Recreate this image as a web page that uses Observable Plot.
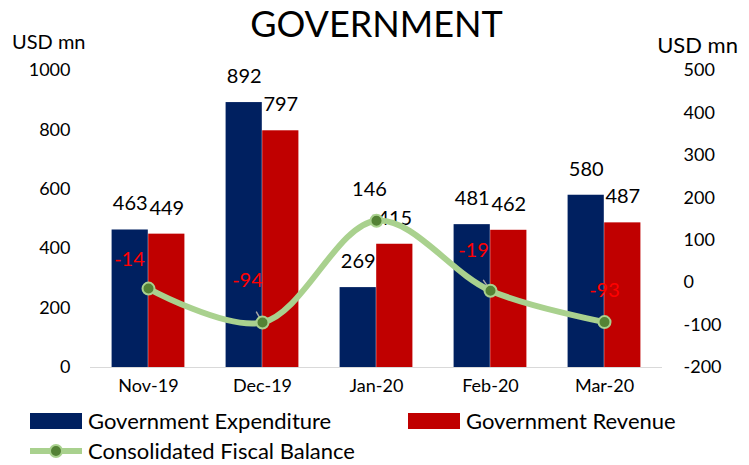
<!DOCTYPE html>
<html>
<head>
<meta charset="utf-8">
<script src="https://cdn.jsdelivr.net/npm/d3@7"></script>
<script src="https://cdn.jsdelivr.net/npm/@observablehq/plot@0.6"></script>
<style>
  html, body { margin: 0; padding: 0; background: #fff; }
  body { font-family: Lato, "Open Sans", sans-serif; color: #000; }
  #wrap { position: relative; width: 749px; height: 465px; overflow: hidden; }
  #header { position: relative; height: 55px; }
  #title { position: absolute; left: 0; right: 0; top: 5px; text-align: center; font-size: 36px; line-height: 36px; padding-left: 4px; }
  .unit { position: absolute; line-height: 22px; }
  #legend { position: relative; height: 65px; font-size: 22px; }
  .item { position: absolute; display: flex; align-items: center; height: 20px; line-height: 20px; }
  .item svg { margin-right: 6px; }
</style>
</head>
<body>
<div id="wrap">
  <div id="header">
    <div id="title">GOVERNMENT</div>
    <div class="unit" style="left:12px; top:30px; font-size:20px;">USD mn</div>
    <div class="unit" style="right:11px; top:34px; font-size:22px;">USD mn</div>
  </div>
  <div id="chart"></div>
  <div id="legend"></div>
</div>
<script>
const months = ["Nov-19", "Dec-19", "Jan-20", "Feb-20", "Mar-20"];
const expenditure = [463, 892, 269, 481, 580];
const revenue = [449, 797, 415, 462, 487];
const balance = [-14, -94, 146, -19, -93];
const leftTicks = [0, 200, 400, 600, 800, 1000];
const rightTicks = [-200, -100, 0, 100, 200, 300, 400, 500];
const seriesNames = ["Government Expenditure", "Government Revenue", "Consolidated Fiscal Balance"];

const colors = { exp: "#002060", rev: "#c00000", line: "#a9d18e", marker: "#548235" };

// secondary axis [-200, 500] mapped onto primary [0, 1000]
const toLeft = v => (v + 200) * 1000 / 700;
const fromLeft = v => v * 700 / 1000 - 200;

const W = 749, ML = 90, MR = 87;
const bw = (W - ML - MR) / months.length;
const barW = bw * 0.32;
const outer = bw / 2 - barW;

const expData = months.map((m, i) => ({ month: m, value: expenditure[i] }));
const revData = months.map((m, i) => ({ month: m, value: revenue[i] }));
const lineData = months.map((m, i) => ({ month: m, value: balance[i], yl: toLeft(balance[i]) }));

// label nudges (pixels) for the balance labels, and leader lines [length, angle]
const labelNudge = [[-19, -29], [-15, -42], [-7, -31], [-17, -40], [0, -32]];
const leader = [null, [28, -30], [15, -32], [29, -34], null];

const lineShape = { draw(ctx, l) { ctx.moveTo(0, 0); ctx.lineTo(0, -l); } };

const marks = [
  Plot.axisY(leftTicks, { tickSize: 0, tickPadding: 20, label: null, fontSize: 18, tickFormat: d => String(d) }),
  Plot.axisY(rightTicks.map(toLeft), { anchor: "right", tickSize: 0, tickPadding: 21, label: null, fontSize: 18,
    tickFormat: d => String(Math.round(fromLeft(d))) }),
  Plot.axisX({ tickSize: 0, tickPadding: 12, label: null, fontSize: 18 }),
  Plot.barY(expData, { x: "month", y: "value", fill: colors.exp, insetLeft: outer, insetRight: bw / 2 }),
  Plot.barY(revData, { x: "month", y: "value", fill: colors.rev, insetLeft: bw / 2, insetRight: outer }),
  Plot.text(expData, { x: "month", y: "value", text: d => String(d.value), dx: -barW / 2, dy: -26, fontSize: 20, fill: "#000" }),
  Plot.text(revData, { x: "month", y: "value", text: d => String(d.value), dx: barW / 2, dy: -26, fontSize: 20, fill: "#000" }),
  Plot.ruleY([0], { stroke: "#d9d9d9", strokeWidth: 1 }),
  Plot.line(lineData, { x: "month", y: "yl", stroke: colors.line, strokeWidth: 6, curve: "catmull-rom" })
];

lineData.forEach((d, i) => {
  if (leader[i]) {
    marks.push(Plot.vector([d], { x: "month", y: "yl", length: () => leader[i][0], rotate: () => leader[i][1],
      anchor: "start", stroke: "#a6a6a6", strokeWidth: 1.5, shape: lineShape }));
  }
});

marks.push(Plot.dot(lineData, { x: "month", y: "yl", r: 6, fill: colors.marker, stroke: colors.line, strokeWidth: 2 }));

lineData.forEach((d, i) => {
  marks.push(Plot.text([d], { x: "month", y: "yl", text: e => String(e.value), dx: labelNudge[i][0], dy: labelNudge[i][1],
    fontSize: 20, fill: d.value < 0 ? "#ff0000" : "#000" }));
});

const chart = Plot.plot({
  width: W, height: 345,
  marginTop: 15, marginBottom: 33, marginLeft: ML, marginRight: MR,
  style: { fontFamily: "Lato, 'Open Sans', sans-serif", fontSize: "18px", color: "#000", background: "white", overflow: "visible" },
  x: { domain: months, padding: 0 },
  y: { domain: [0, 1000] },
  marks
});
document.getElementById("chart").appendChild(chart);

// legend
const legend = document.getElementById("legend");
const items = [
  { name: seriesNames[0], kind: "rect", color: colors.exp, left: 30, top: 11 },
  { name: seriesNames[1], kind: "rect", color: colors.rev, left: 408, top: 11 },
  { name: seriesNames[2], kind: "line", left: 30, top: 41 }
];
items.forEach(it => {
  const div = document.createElement("div");
  div.className = "item";
  div.style.left = it.left + "px";
  div.style.top = it.top + "px";
  let sw;
  if (it.kind === "rect") {
    sw = `<svg width="52" height="16"><rect x="0" y="0" width="52" height="16" fill="${it.color}"/></svg>`;
  } else {
    sw = `<svg width="52" height="16"><line x1="1" y1="8" x2="51" y2="8" stroke="${colors.line}" stroke-width="6" stroke-linecap="round"/><circle cx="26" cy="8" r="6" fill="${colors.marker}" stroke="${colors.line}" stroke-width="2"/></svg>`;
  }
  div.innerHTML = sw + `<span>${it.name}</span>`;
  legend.appendChild(div);
});
</script>
</body>
</html>
